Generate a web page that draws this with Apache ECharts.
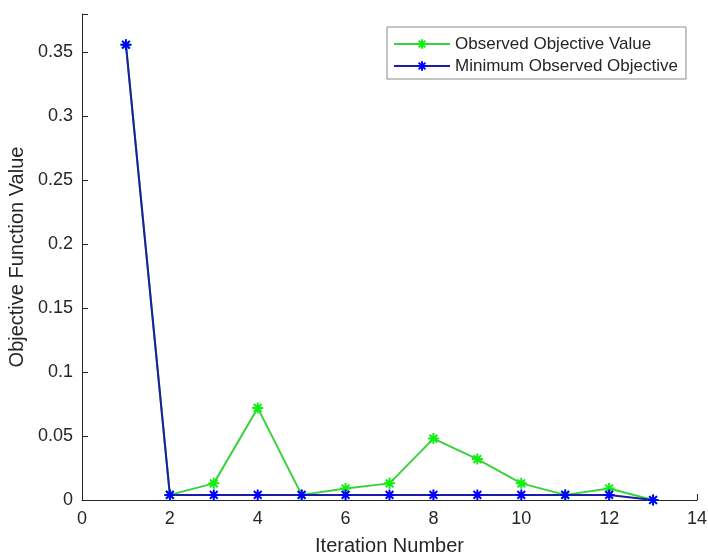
<!DOCTYPE html>
<html><head><meta charset="utf-8">
<script src="https://cdn.jsdelivr.net/npm/echarts@6/dist/echarts.min.js"></script>
<style>html,body{margin:0;padding:0;background:#fff}#c{width:708px;height:557px}</style>
</head><body><div id="c"></div>
<script>
const iterations = [1,2,3,4,5,6,7,8,9,10,11,12,13];
const observedObjective = [0.356,0.004,0.013,0.072,0.004,0.009,0.013,0.048,0.032,0.013,0.004,0.009,0.0];
const minimumObjective = [0.356,0.004,0.004,0.004,0.004,0.004,0.004,0.004,0.004,0.004,0.004,0.004,0.0];
const seriesNames = ['Observed Objective Value','Minimum Observed Objective'];
const xTitle = 'Iteration Number';
const yTitle = 'Objective Function Value';

const star = 'path://M5,0L5,10M0,5L10,5M1.5,1.5L8.5,8.5M1.5,8.5L8.5,1.5';
const font = 'Liberation Sans, Arial, sans-serif';
const axisCol = '#262626';
const chart = echarts.init(document.getElementById('c'), null, {renderer:'canvas'});
function pts(arr){ return iterations.map((x,i)=>[x,arr[i]]); }
chart.setOption({
  animation:false,
  backgroundColor:'#fff',
  grid:{left:82,right:11,top:14,bottom:57,containLabel:false,outerBoundsMode:'none'},
  legend:{
    orient:'vertical', left:387, top:27, itemWidth:56, itemHeight:12, itemGap:4,
    padding:[8,8,4,6], borderColor:'#8a8a8a', borderWidth:1, backgroundColor:'#fff',
    textStyle:{fontFamily:font,fontSize:17,lineHeight:18,color:axisCol},
    data:seriesNames
  },
  xAxis:{
    type:'value', min:0, max:14, interval:2,
    name:xTitle, nameLocation:'middle', nameGap:36,
    nameTextStyle:{fontFamily:font,fontSize:20,color:axisCol},
    axisLine:{show:true,onZero:false,lineStyle:{color:axisCol,width:1}},
    axisTick:{show:true,inside:true,length:6,lineStyle:{color:axisCol}},
    axisLabel:{fontFamily:font,fontSize:18,color:axisCol,margin:10},
    splitLine:{show:false}
  },
  yAxis:{
    type:'value', min:0, max:0.38, interval:0.05,
    name:yTitle, nameLocation:'middle', nameGap:47,
    nameTextStyle:{fontFamily:font,fontSize:20,color:axisCol},
    axisLine:{show:true,lineStyle:{color:axisCol,width:1}},
    axisTick:{show:true,inside:true,length:6,lineStyle:{color:axisCol}},
    axisLabel:{fontFamily:font,fontSize:18,color:axisCol,margin:9,
      formatter:function(v){ return (Math.abs(v-0.38)<1e-9)?'':String(+v.toFixed(2)); }},
    splitLine:{show:false}
  },
  series:[
    {name:seriesNames[0], type:'line', data:pts(observedObjective),
     symbol:star, symbolSize:11, showAllSymbol:true,
     lineStyle:{color:'#3ad23a',width:2},
     itemStyle:{color:'transparent',borderColor:'#11ee11',borderWidth:2}},
    {name:seriesNames[1], type:'line', data:pts(minimumObjective),
     symbol:star, symbolSize:11, showAllSymbol:true,
     lineStyle:{color:'#1c1ca8',width:2},
     itemStyle:{color:'transparent',borderColor:'#0000ff',borderWidth:2}}
  ]
});
</script></body></html>
